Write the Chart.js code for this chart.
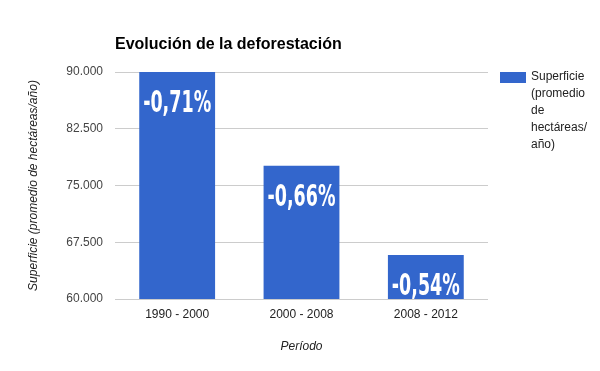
<!DOCTYPE html>
<html>
<head>
<meta charset="utf-8">
<script src="https://cdn.jsdelivr.net/npm/chart.js@4.4.0/dist/chart.umd.min.js"></script>
<style>
  html, body { margin: 0; padding: 0; background: #fff; }
  #wrap { width: 600px; height: 371px; }
</style>
</head>
<body>
<div id="wrap"><canvas id="chart1"></canvas></div>
<script>
const periodos = ['1990 - 2000', '2000 - 2008', '2008 - 2012']; // categorias
const superficie = [90000, 77600, 65800]; // hectareas por año
const cambios = ['-0,71%', '-0,66%', '-0,54%']; // etiqueta sobre cada barra
const yTicks = [60000, 67500, 75000, 82500, 90000];
const serieNombre = ['Superficie', '(promedio', 'de', 'hectáreas/', 'año)'];

const fmt = v => String(v).replace(/\B(?=(\d{3})+(?!\d))/g, '.');

// titulo, leyenda y porcentajes dibujados a mano
const extras = {
  id: 'extras',
  afterDatasetsDraw(chart) {
    const ctx = chart.ctx;
    const meta = chart.getDatasetMeta(0);
    ctx.save();
    ctx.fillStyle = '#fff';
    ctx.textAlign = 'center';
    ctx.textBaseline = 'middle';
    ctx.font = 'bold 31px "DejaVu Sans Condensed", "Liberation Sans Narrow", sans-serif';
    meta.data.forEach((bar, i) => {
      const w = ctx.measureText(cambios[i]).width;
      const sx = 68 / w;
      ctx.save();
      ctx.translate(bar.x, bar.y + 31);
      ctx.scale(sx, 1);
      ctx.fillText(cambios[i], 0, 1);
      ctx.restore();
    });
    ctx.restore();
  },
  afterDraw(chart) {
    const ctx = chart.ctx;
    ctx.save();
    // titulo
    ctx.fillStyle = '#000';
    ctx.textAlign = 'left';
    ctx.textBaseline = 'middle';
    ctx.font = 'bold 16px "Liberation Sans", Arial, sans-serif';
    ctx.fillText('Evolución de la deforestación', chart.chartArea.left, 45);
    // leyenda
    ctx.fillStyle = '#3366cc';
    ctx.fillRect(500, 72, 26, 11);
    ctx.fillStyle = '#222';
    ctx.font = '12px "Liberation Sans", Arial, sans-serif';
    serieNombre.forEach((t, i) => ctx.fillText(t, 531, 77 + i * 17));
    ctx.restore();
  }
};

new Chart(document.getElementById('chart1'), {
  type: 'bar',
  data: {
    labels: periodos,
    datasets: [{
      label: serieNombre.join(' '),
      data: superficie,
      backgroundColor: '#3366cc',
      barPercentage: 0.61,
      categoryPercentage: 1
    }]
  },
  options: {
    responsive: true,
    maintainAspectRatio: false,
    animation: false,
    layout: { padding: { top: 72, right: 112, bottom: 0, left: 0 } },
    plugins: {
      legend: { display: false },
      tooltip: { enabled: false }
    },
    scales: {
      x: {
        grid: { display: false },
        border: { display: false },
        ticks: { color: '#222', padding: 0, font: { family: '"Liberation Sans", Arial', size: 12 } },
        title: {
          display: true, text: 'Período', color: '#222',
          font: { family: '"Liberation Sans", Arial', size: 12, style: 'italic' },
          padding: { top: 17, bottom: 17 }
        },
        afterFit(s) { s.height = 72; }
      },
      y: {
        min: 60000,
        max: 90000,
        afterBuildTicks(s) { s.ticks = yTicks.map(v => ({ value: v })); },
        grid: { color: '#cccccc', drawTicks: false },
        border: { display: false },
        ticks: {
          color: '#444', padding: 12,
          font: { family: '"Liberation Sans", Arial', size: 12 },
          callback: v => fmt(v)
        },
        title: {
          display: true, text: 'Superficie (promedio de hectáreas/año)', color: '#222',
          font: { family: '"Liberation Sans", Arial', size: 12, style: 'italic' },
          padding: { top: 26, bottom: 26 }
        },
        afterFit(s) { s.width = 115; }
      }
    }
  },
  plugins: [extras]
});
</script>
</body>
</html>
